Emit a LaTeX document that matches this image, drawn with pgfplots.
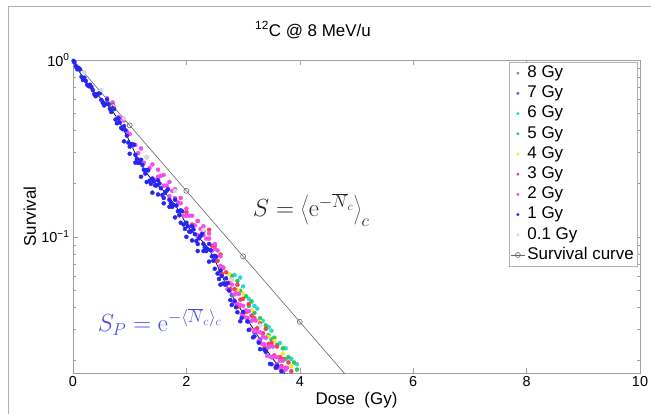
\documentclass[border=0pt]{standalone}
\usepackage[no-math]{fontspec}
\setmainfont{Liberation Sans}
\usepackage{pgfplots}
\pgfplotsset{compat=1.18}
\definecolor{c8}{gray}{0.55}
\definecolor{c7}{rgb}{0.40,0.35,0.95}
\definecolor{c6}{rgb}{0.15,0.85,0.85}
\definecolor{c5}{rgb}{0.15,0.80,0.35}
\definecolor{c4}{rgb}{0.95,0.92,0.15}
\definecolor{c3}{rgb}{0.95,0.25,0.35}
\definecolor{c2}{rgb}{0.95,0.30,0.95}
\definecolor{c1}{rgb}{0.15,0.15,0.95}
\definecolor{c01}{gray}{0.85}
\definecolor{spblue}{rgb}{0.30,0.30,0.90}
\newcommand{\fs}{\fontsize{17}{20}\selectfont}
\newcommand{\ft}{\fontsize{14.5}{17}\selectfont}
\begin{document}
\begin{tikzpicture}
\useasboundingbox (0,0) rectangle (651bp,414bp);
\draw[gray!60, line width=0.8bp] (8bp,-2bp) -- (8bp,408bp) -- (653bp,408bp);
\node[font=\fs] at (313bp,384bp) {\textsuperscript{12}C @ 8 MeV/u};
\begin{axis}[
  at={(73bp,41bp)}, anchor=south west, scale only axis,
  width=567bp, height=313bp,
  xmin=0, xmax=10, ymin=0.017, ymax=1, ymode=log,
  xtick={0,2,4,6,8,10},
  ytick={0.1,1}, yticklabels={10\textsuperscript{−1},10\textsuperscript{0}},
  minor ytick={0.02,0.03,0.04,0.05,0.06,0.07,0.08,0.09,0.2,0.3,0.4,0.5,0.6,0.7,0.8,0.9},
  tick align=inside, major tick length=5bp, minor tick length=3bp,
  axis line style={gray!75}, every tick/.style={gray!75},
  tick label style={font=\ft},
  /pgf/number format/assume math mode=true,
  xlabel={Dose\ \ (Gy)}, ylabel={Survival},
  label style={font=\fs},
  xlabel style={at={(axis description cs:0.5,-0.0863)}, anchor=center},
  ylabel style={at={(axis description cs:-0.076,0.5)}, anchor=center},
  legend style={at={(0.995,0.994)}, anchor=north east, draw=gray!60, fill=white,
    font=\fs, inner xsep=1bp, inner ysep=1bp,
    nodes={text height=12.3bp, text depth=3.5bp, inner sep=2.2bp}},
  legend cell align=left,
  legend image code/.code={\draw[mark repeat=2,mark phase=2,#1,mark indices={2}] plot coordinates {(0bp,0bp) (7bp,0bp) (14bp,0bp)};},
  every axis plot/.append style={mark size=2bp},
]
% 8 Gy
\addplot[only marks, mark=*, color=c8, legend image post style={mark size=1.3bp}] table[header=false, row sep=\\, x index=0, y expr=10^(\thisrowno{1})] {
2.60 -1.20\\ 3.00 -1.43\\ 3.40 -1.63\\ 3.75 -1.78\\ 2.20 -1.00\\
};
\addlegendentry{8 Gy}
% 7 Gy
\addplot[only marks, mark=*, color=c7, legend image post style={mark size=1.3bp}] table[header=false, row sep=\\, x index=0, y expr=10^(\thisrowno{1})] {
2.50 -1.13\\ 2.70 -1.27\\ 2.90 -1.38\\ 3.10 -1.48\\ 3.30 -1.58\\ 3.50 -1.68\\ 3.70 -1.76\\
2.60 -1.21\\ 2.80 -1.33\\ 3.00 -1.43\\ 3.20 -1.54\\ 3.40 -1.63\\ 3.60 -1.72\\
};
\addlegendentry{7 Gy}
% 6 Gy
\addplot[only marks, mark=*, color=c6, legend image post style={mark size=1.3bp}] table[header=false, row sep=\\, x index=0, y expr=10^(\thisrowno{1})] {
2.85 -1.215\\ 2.95 -1.23\\ 3.00 -1.280\\ 3.10 -1.350\\ 3.25 -1.405\\ 3.35 -1.475\\ 3.50 -1.530\\
3.65 -1.600\\ 3.75 -1.630\\ 3.85 -1.690\\ 3.95 -1.720\\ 3.20 -1.39\\ 3.45 -1.51\\
};
\addlegendentry{6 Gy}
% 5 Gy
\addplot[only marks, mark=*, color=c5, legend image post style={mark size=1.3bp}] table[header=false, row sep=\\, x index=0, y expr=10^(\thisrowno{1})] {
2.80 -1.220\\ 2.90 -1.250\\ 2.95 -1.305\\ 3.05 -1.335\\ 3.15 -1.365\\ 3.20 -1.430\\ 3.30 -1.460\\
3.40 -1.500\\ 3.45 -1.555\\ 3.55 -1.570\\ 3.60 -1.610\\ 3.70 -1.630\\ 3.80 -1.680\\ 3.90 -1.710\\ 3.95 -1.750\\
3.10 -1.39\\ 3.50 -1.58\\ 3.75 -1.69\\
};
\addlegendentry{5 Gy}
% 4 Gy
\addplot[only marks, mark=*, color=c4, legend image post style={mark size=1.3bp}] table[header=false, row sep=\\, x index=0, y expr=10^(\thisrowno{1})] {
1.90 -0.780\\ 2.40 -0.990\\ 2.60 -1.100\\ 2.75 -1.210\\ 2.90 -1.300\\ 3.00 -1.320\\ 3.15 -1.415\\
3.30 -1.480\\ 3.45 -1.565\\ 3.55 -1.590\\ 3.70 -1.660\\ 3.85 -1.730\\
};
\addlegendentry{4 Gy}
% 3 Gy
\addplot[only marks, mark=*, color=c3, legend image post style={mark size=1.3bp}] table[header=false, row sep=\\, x index=0, y expr=10^(\thisrowno{1})] {
2.00 -0.860\\ 2.10 -0.930\\ 2.20 -0.910\\ 2.30 -0.970\\ 2.40 -0.960\\ 2.45 -1.050\\ 2.50 -1.050\\
2.55 -1.135\\ 2.60 -1.100\\ 2.65 -1.175\\ 2.70 -1.200\\ 2.75 -1.260\\ 2.80 -1.240\\ 2.85 -1.295\\
2.90 -1.270\\ 2.95 -1.355\\ 3.00 -1.350\\ 3.05 -1.425\\ 3.10 -1.380\\ 3.15 -1.445\\ 3.20 -1.460\\
3.25 -1.515\\ 3.30 -1.490\\ 3.35 -1.545\\ 3.40 -1.520\\ 3.45 -1.605\\ 3.50 -1.600\\ 3.55 -1.670\\
3.60 -1.620\\ 3.65 -1.680\\ 3.70 -1.690\\ 3.75 -1.740\\ 3.80 -1.710\\ 3.85 -1.760\\
2.625 -1.208\\ 2.775 -1.295\\ 2.925 -1.393\\ 3.075 -1.458\\ 3.225 -1.523\\ 3.375 -1.628\\
3.525 -1.680\\ 3.675 -1.730\\
};
\addlegendentry{3 Gy}
% 2 Gy
\addplot[only marks, mark=*, color=c2, legend image post style={mark size=1.3bp}] table[header=false, row sep=\\, x index=0, y expr=10^(\thisrowno{1})] {
0.60 -0.216\\ 0.70 -0.240\\ 0.80 -0.322\\ 0.85 -0.328\\ 0.90 -0.342\\ 0.95 -0.404\\ 1.00 -0.418\\
1.05 -0.485\\ 1.10 -0.480\\ 1.15 -0.526\\ 1.25 -0.581\\ 1.35 -0.610\\ 1.45 -0.677\\ 1.50 -0.660\\
1.55 -0.655\\ 1.60 -0.710\\ 1.65 -0.710\\ 1.70 -0.770\\ 1.75 -0.740\\ 1.80 -0.780\\ 1.85 -0.805\\
1.90 -0.810\\ 1.95 -0.880\\ 2.00 -0.880\\ 2.05 -0.880\\ 2.10 -0.940\\ 2.15 -0.935\\ 2.20 -0.990\\
2.25 -0.955\\ 2.30 -0.990\\ 2.35 -1.010\\ 2.40 -1.010\\ 2.45 -1.080\\ 2.50 -1.068\\ 2.55 -1.077\\
2.60 -1.164\\ 2.65 -1.173\\ 2.70 -1.260\\
1.20 -0.50\\ 1.30 -0.55\\ 1.40 -0.59\\ 1.50 -0.62\\ 1.60 -0.65\\ 1.70 -0.69\\ 1.80 -0.73\\
1.90 -0.78\\ 2.00 -0.84\\ 2.10 -0.88\\ 2.20 -0.91\\ 2.30 -0.94\\ 2.40 -0.98\\ 2.50 -1.04\\ 2.60 -1.11\\
2.725 -1.295\\ 2.75 -1.260\\ 2.775 -1.305\\ 2.80 -1.270\\ 2.825 -1.373\\ 2.85 -1.325\\ 2.875 -1.318\\
2.90 -1.380\\ 2.925 -1.323\\ 2.95 -1.385\\ 2.975 -1.438\\ 3.00 -1.390\\ 3.025 -1.453\\ 3.05 -1.415\\
3.075 -1.458\\ 3.10 -1.420\\ 3.125 -1.523\\ 3.15 -1.475\\ 3.175 -1.468\\ 3.20 -1.530\\ 3.225 -1.473\\
3.25 -1.535\\ 3.275 -1.588\\ 3.30 -1.540\\ 3.325 -1.603\\ 3.35 -1.565\\ 3.375 -1.608\\ 3.40 -1.570\\
3.425 -1.673\\ 3.45 -1.625\\ 3.475 -1.618\\ 3.50 -1.680\\ 3.525 -1.620\\ 3.55 -1.680\\ 3.575 -1.730\\
3.60 -1.680\\ 3.625 -1.740\\ 3.65 -1.700\\ 3.675 -1.740\\ 3.70 -1.700\\ 3.75 -1.750\\ 3.775 -1.740\\
3.80 -1.780\\
};
\addlegendentry{2 Gy}
% 1 Gy
\addplot[only marks, mark=*, color=c1, legend image post style={mark size=1.3bp}] table[header=false, row sep=\\, x index=0, y expr=10^(\thisrowno{1})] {
0.01 -0.005\\ 0.02 -0.010\\
0.05 -0.035\\ 0.10 -0.045\\ 0.15 -0.095\\ 0.20 -0.100\\ 0.25 -0.140\\ 0.30 -0.140\\ 0.35 -0.170\\
0.40 -0.205\\ 0.45 -0.190\\ 0.50 -0.226\\ 0.55 -0.257\\ 0.60 -0.224\\ 0.65 -0.276\\ 0.70 -0.272\\
0.75 -0.337\\ 0.80 -0.330\\ 0.85 -0.384\\ 0.90 -0.374\\ 0.95 -0.428\\ 1.00 -0.490\\ 1.05 -0.477\\
1.10 -0.536\\ 1.15 -0.582\\ 1.20 -0.564\\ 1.25 -0.621\\ 1.30 -0.622\\ 1.35 -0.682\\ 1.40 -0.670\\
1.45 -0.709\\ 1.50 -0.680\\ 1.55 -0.725\\ 1.60 -0.780\\ 1.65 -0.740\\ 1.70 -0.790\\ 1.75 -0.830\\
1.80 -0.790\\ 1.85 -0.855\\ 1.90 -0.850\\ 1.95 -0.930\\ 2.00 -0.920\\ 2.05 -0.970\\ 2.10 -0.940\\
2.15 -0.985\\ 2.20 -1.040\\ 2.25 -0.995\\ 2.30 -1.040\\ 2.35 -1.080\\ 2.40 -1.040\\ 2.45 -1.110\\
2.50 -1.107\\ 2.55 -1.207\\ 2.60 -1.190\\ 2.65 -1.264\\ 2.70 -1.234\\ 2.75 -1.303\\ 2.80 -1.385\\
2.85 -1.362\\ 2.90 -1.426\\ 2.95 -1.477\\ 3.00 -1.424\\ 3.10 -1.526\\ 3.20 -1.563\\ 3.30 -1.635\\
3.40 -1.650\\ 3.50 -1.720\\ 3.60 -1.730\\
0.025 -0.013\\ 0.075 -0.053\\ 0.125 -0.053\\ 0.175 -0.113\\ 0.225 -0.118\\ 0.275 -0.148\\
0.325 -0.153\\ 0.375 -0.193\\ 0.425 -0.193\\ 0.475 -0.188\\ 0.525 -0.242\\ 0.575 -0.249\\
0.625 -0.250\\ 0.675 -0.294\\ 0.725 -0.277\\ 0.775 -0.358\\ 0.825 -0.353\\ 0.875 -0.391\\
0.925 -0.397\\ 0.975 -0.467\\ 1.025 -0.476\\ 1.075 -0.479\\ 1.125 -0.559\\ 1.175 -0.581\\
1.225 -0.593\\ 1.275 -0.642\\ 1.325 -0.624\\ 1.375 -0.700\\ 1.425 -0.686\\ 1.475 -0.709\\
1.525 -0.698\\ 1.575 -0.763\\ 1.625 -0.750\\ 1.675 -0.730\\ 1.725 -0.810\\ 1.775 -0.820\\
1.825 -0.823\\ 1.875 -0.878\\ 1.925 -0.855\\ 1.975 -0.955\\ 2.025 -0.940\\ 2.075 -0.970\\
2.125 -0.958\\ 2.175 -1.023\\ 2.225 -1.008\\ 2.275 -0.983\\ 2.325 -1.060\\ 2.375 -1.070\\
2.425 -1.075\\ 2.475 -1.135\\ 2.525 -1.112\\ 2.575 -1.238\\ 2.625 -1.221\\ 2.675 -1.269\\
2.725 -1.262\\ 2.775 -1.357\\ 2.875 -1.398\\ 2.975 -1.458\\ 3.075 -1.478\\ 3.175 -1.568\\
3.275 -1.598\\ 3.375 -1.638\\ 3.475 -1.718\\ 3.575 -1.740\\ 3.675 -1.760\\
0.90 -0.46\\ 1.00 -0.53\\ 1.10 -0.58\\ 1.20 -0.66\\ 1.30 -0.69\\ 1.40 -0.75\\ 1.50 -0.76\\
1.60 -0.81\\ 1.70 -0.83\\ 1.80 -0.89\\ 1.90 -0.92\\ 2.00 -1.00\\ 2.10 -1.02\\ 2.20 -1.08\\
2.30 -1.08\\ 2.40 -1.14\\ 2.50 -1.18\\ 2.60 -1.27\\
};
\addlegendentry{1 Gy}
% 0.1 Gy
\addplot[only marks, mark=*, color=c01, legend image post style={mark size=1.3bp}] table[header=false, row sep=\\, x index=0, y expr=10^(\thisrowno{1})] {
0.20 -0.07\\ 0.50 -0.17\\ 0.90 -0.33\\ 1.30 -0.55\\ 1.80 -0.74\\ 2.30 -0.96\\ 2.80 -1.24\\ 3.30 -1.50\\
};
\addlegendentry{0.1 Gy}
% Survival curve
\addplot[color=gray!80!black, line width=0.6bp, mark=o, mark size=2.5bp, mark indices={2,3,4,5,6}] coordinates {
(0,1) (0.7,0.551) (1,0.427) (2,0.182) (3,0.0776) (4,0.0331) (5,0.0141)
};
\addlegendentry{Survival curve}
% S_P line
\addplot[black, line width=0.7bp, forget plot] table[header=false, row sep=\\, x index=0, y expr=10^(\thisrowno{1})] {
0 0\\ 0.1 -0.06\\ 0.2 -0.11\\ 0.3 -0.16\\ 0.4 -0.19\\ 0.5 -0.22\\ 0.6 -0.25\\ 0.7 -0.29\\ 0.8 -0.34\\
0.9 -0.40\\ 1.0 -0.46\\ 1.1 -0.53\\ 1.2 -0.59\\ 1.3 -0.64\\ 1.4 -0.68\\ 1.5 -0.71\\ 1.6 -0.74\\
1.7 -0.78\\ 1.8 -0.82\\ 1.9 -0.87\\ 2.0 -0.93\\ 2.1 -0.97\\ 2.2 -1.00\\ 2.3 -1.03\\ 2.4 -1.07\\
2.5 -1.13\\ 2.6 -1.20\\ 2.7 -1.27\\ 2.8 -1.33\\ 2.9 -1.38\\ 3.0 -1.43\\ 3.1 -1.48\\ 3.2 -1.53\\
3.3 -1.58\\ 3.4 -1.63\\ 3.5 -1.68\\ 3.6 -1.72\\ 3.7 -1.76\\ 3.8 -1.80\\
};
\node[font=\fontsize{23}{27}\selectfont, text=black!85] at (axis cs:4.2,0.142)
  {$S = \left\langle \mathrm{e}^{-\overline{N}_c} \right\rangle_c$};
\node[font=\fontsize{23}{27}\selectfont, text=spblue] at (axis cs:1.53,0.033)
  {$S_P = \mathrm{e}^{-\langle \overline{N}_c\rangle_c}$};
\end{axis}
\end{tikzpicture}
\end{document}
